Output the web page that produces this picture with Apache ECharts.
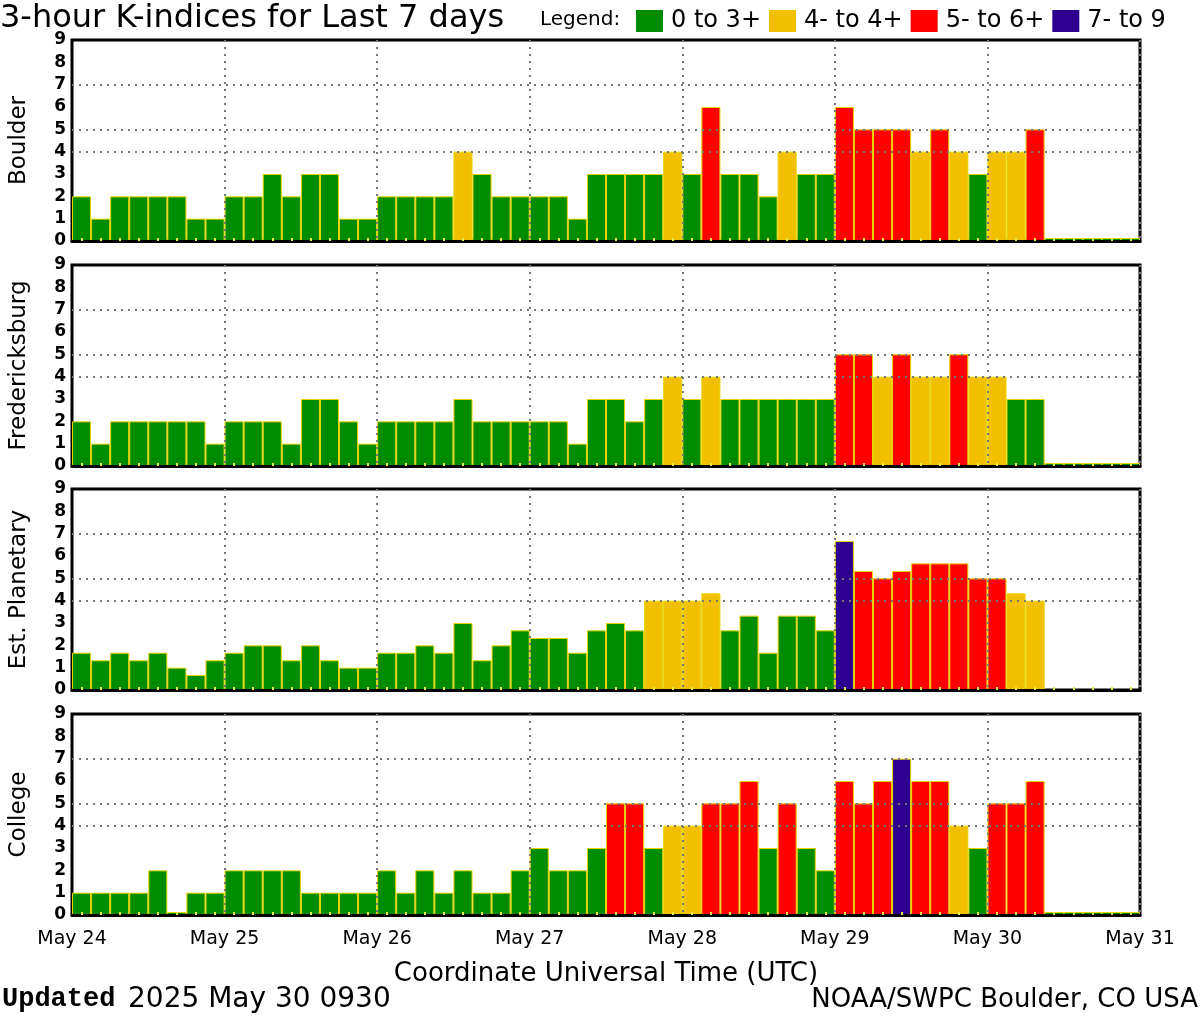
<!DOCTYPE html>
<html><head><meta charset="utf-8">
<script src="https://cdn.jsdelivr.net/npm/echarts@6/dist/echarts.min.js"></script>
<style>html,body{margin:0;padding:0;background:#fff}#c{width:1200px;height:1020px}</style>
</head><body><div id="c"></div>
<script>
// ---- data ----
const stations = ['Boulder', 'Fredericksburg', 'Est. Planetary', 'College'];
const boulder = [2,1,2,2,2,2,1,1, 2,2,3,2,3,3,1,1, 2,2,2,2,4,3,2,2, 2,2,1,3,3,3,3,4, 3,6,3,3,2,4,3,3, 6,5,5,5,4,5,4,3, 4,4,5,0,0,0,0,0];
const fredericksburg = [2,1,2,2,2,2,2,1, 2,2,2,1,3,3,2,1, 2,2,2,2,3,2,2,2, 2,2,1,3,3,2,3,4, 3,4,3,3,3,3,3,3, 5,5,4,5,4,4,5,4, 4,3,3,0,0,0,0,0];
const planetary = [1.67,1.33,1.67,1.33,1.67,1,0.67,1.33, 1.67,2,2,1.33,2,1.33,1,1, 1.67,1.67,2,1.67,3,1.33,2,2.67, 2.33,2.33,1.67,2.67,3,2.67,4,4, 4,4.33,2.67,3.33,1.67,3.33,3.33,2.67, 6.67,5.33,5,5.33,5.67,5.67,5.67,5, 5,4.33,4,0,0,0,0,0];
const college = [1,1,1,1,2,0,1,1, 2,2,2,2,1,1,1,1, 2,1,2,1,2,1,1,2, 3,2,2,3,5,5,3,4, 4,5,5,6,3,5,3,2, 6,5,6,7,6,6,4,3, 5,5,6,0,0,0,0,0];
const dayLabels = ['May 24','May 25','May 26','May 27','May 28','May 29','May 30','May 31'];
const hourLabels = ['00','03','06','09','12','15','18','21'];
const yTickLabels = ['0','1','2','3','4','5','6','7','8','9'];
const thresholdLines = [4, 5, 7];
const legendNames = ['0 to 3+', '4- to 4+', '5- to 6+', '7- to 9'];

// ---- styles ----
const COLORS = ['#008c00', '#f2c000', '#ff0000', '#2e0090'];
function colorFor(v){ if (v < 3.5) return COLORS[0]; if (v < 4.5) return COLORS[1]; if (v < 6.5) return COLORS[2]; return COLORS[3]; }
const FONT = 'DejaVu Sans';
const seriesData = [boulder, fredericksburg, planetary, college];
const tops = [40, 265, 489, 714];
const H = 201;
const slots = [];
for (let d = 0; d < 7; d++) for (let h = 0; h < 8; h++) slots.push(dayLabels[d] + ' ' + hourLabels[h]);

const grids = [], xAxes = [], yAxes = [], series = [];
stations.forEach((name, i) => {
  grids.push({left: 72, right: 60, top: tops[i], height: H, show: true, borderColor: '#000', borderWidth: 3, backgroundColor: 'transparent', containLabel: false, outerBoundsMode: 'none'});
  xAxes.push({
    type: 'category', gridIndex: i, data: slots, boundaryGap: true, z: 5,
    axisLine: {show: true, lineStyle: {color: '#000', width: 3}},
    axisTick: {show: true, inside: true, alignWithLabel: true, interval: 0, length: 3, lineStyle: {color: '#e8e84a', width: 2}},
    axisLabel: {show: false},
    splitLine: {show: true, interval: (idx) => idx % 8 === 0 && idx > 0, lineStyle: {color: '#777', type: [2, 5], width: 2}}
  });
  yAxes.push({
    type: 'value', gridIndex: i, min: 0, max: 9, interval: 1,
    name: name, nameLocation: 'middle', nameGap: 41, nameRotate: 90,
    nameTextStyle: {fontFamily: FONT, fontSize: 23, color: '#000'},
    axisLine: {show: false}, axisTick: {show: false}, splitLine: {show: false},
    axisLabel: {fontFamily: FONT, fontWeight: 'bold', fontSize: 17, color: '#000', margin: 6,
      showMinLabel: true, showMaxLabel: true, hideOverlap: false,
      formatter: (v) => yTickLabels[v]}
  });
  series.push({
    type: 'bar', xAxisIndex: i, yAxisIndex: i, data: seriesData[i],
    barCategoryGap: '0%', barMinHeight: i === 2 ? 0 : 3,
    itemStyle: {color: (p) => colorFor(p.value), borderColor: '#e8d400', borderWidth: 1},
    silent: true, animation: false,
    markLine: {silent: true, symbol: 'none', label: {show: false},
      lineStyle: {color: '#777', type: [2, 5], width: 2},
      data: thresholdLines.map(v => ({yAxis: v}))}
  });
});
// bottom day labels axis
xAxes.push({
  type: 'value', gridIndex: 3, min: 0, max: 7, interval: 1, position: 'bottom',
  axisLine: {show: false}, axisTick: {show: false}, splitLine: {show: false},
  axisLabel: {show: true, margin: 15, fontFamily: FONT, fontSize: 19, color: '#000', showMinLabel: true, showMaxLabel: true, formatter: (v) => dayLabels[v]},
  name: 'Coordinate Universal Time (UTC)', nameLocation: 'middle', nameGap: 46,
  nameTextStyle: {fontFamily: FONT, fontSize: 26, color: '#000'}
});
// legend dummy series (line type so the bars keep full width)
legendNames.forEach((n, k) => {
  series.push({type: 'line', name: n, xAxisIndex: 0, yAxisIndex: 0, data: [], itemStyle: {color: COLORS[k]}, lineStyle: {color: COLORS[k]}});
});

const chart = echarts.init(document.getElementById('c'), null, {renderer: 'canvas'});
chart.setOption({
  animation: false,
  backgroundColor: '#fff',
  grid: grids, xAxis: xAxes, yAxis: yAxes, series: series,
  legend: {show: true, left: 636, top: 9, data: legendNames.map(n => ({name: n, icon: 'rect'})), selectedMode: false,
    icon: 'rect', itemWidth: 27, itemHeight: 22, itemGap: 8, padding: 0,
    textStyle: {fontFamily: FONT, fontSize: 24, color: '#000', padding: [0, 0, 0, 3]}},
  graphic: [
    {type: 'text', left: 0, top: 3, style: {text: '3-hour K-indices for Last 7 days', font: '32px "DejaVu Sans"', fill: '#000'}},
    {type: 'text', left: 540, top: 10, style: {text: 'Legend:', font: '20px "DejaVu Sans"', fill: '#000'}},
    {type: 'text', left: 2, top: 986, style: {text: 'Updated', font: 'bold 27px "Liberation Mono"', fill: '#000'}},
    {type: 'text', left: 128, top: 986, style: {text: '2025 May 30 0930', font: '28px "DejaVu Sans"', fill: '#000'}},
    {type: 'text', right: 2, top: 987, style: {text: 'NOAA/SWPC Boulder, CO USA', font: '26px "DejaVu Sans"', fill: '#000'}}
  ]
});
</script></body></html>
